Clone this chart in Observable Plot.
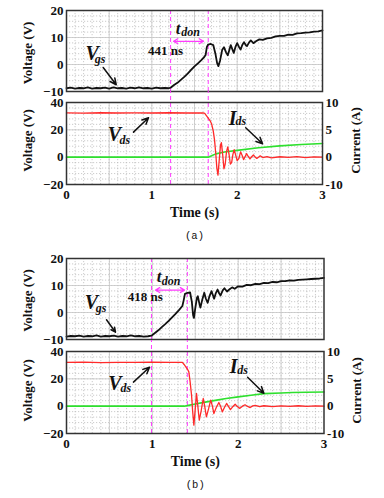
<!DOCTYPE html>
<html><head><meta charset="utf-8">
<script src="https://cdn.jsdelivr.net/npm/d3@7"></script>
<script src="https://cdn.jsdelivr.net/npm/@observablehq/plot@0.6"></script>
<style>
body{margin:0;background:#fff;}
#root{position:relative;width:384px;height:498px;overflow:hidden;background:#fff;}
.p{position:absolute;left:0;}
</style></head><body><div id="root"></div>
<script>
// ---------- data ----------
const timeTicks = [0, 1, 2, 3];
const xMajor = [0.5, 1, 1.5, 2, 2.5];
const vTopTicks = [-10, 0, 10, 20];
const vBotTicks = [-20, 0, 20, 40];
const currentTickPos = [40, 20, 0, -20];
const currentTickLabels = ["10", "5", "0", "-10"];
const AMP_TO_V = 4;

const dashesA = [1.22, 1.661];
const dashesB = [0.99, 1.408];
const tdonLabelA = "441 ns";
const tdonLabelB = "418 ns";

const vgsA = [[0,-8.8],[0.05,-8.6],[0.1,-8.9],[0.15,-8.7],[0.2,-8.8],[0.25,-8.5],[0.3,-8.9],[0.35,-8.7],[0.4,-8.8],[0.45,-8.6],[0.5,-8.9],[0.55,-8.5],[0.6,-8.8],[0.65,-8.7],[0.7,-8.9],[0.75,-8.6],[0.8,-8.8],[0.85,-8.5],[0.9,-8.8],[0.95,-8.7],[1.0,-8.9],[1.05,-8.6],[1.1,-8.8],[1.15,-8.7],[1.2,-8.8],[1.22,-8.6],[1.26,-7.6],[1.30,-6.8],[1.34,-5.7],[1.38,-4.6],[1.42,-3.4],[1.46,-2.0],[1.50,-0.7],[1.54,0.4],[1.58,1.6],[1.61,2.6],[1.63,3.5],[1.645,6.5],[1.66,7.4],[1.69,7.6],[1.72,7.2],[1.745,4.0],[1.765,0.5],[1.78,-0.6],[1.80,1.5],[1.825,5.5],[1.845,6.4],[1.87,4.5],[1.89,3.4],[1.905,5.0],[1.925,7.2],[1.945,5.5],[1.96,4.3],[1.98,6.5],[2.0,7.9],[2.02,6.6],[2.04,5.5],[2.06,7.2],[2.08,8.3],[2.10,7.2],[2.115,6.8],[2.14,8.2],[2.16,8.9],[2.19,7.9],[2.22,8.6],[2.26,9.3],[2.30,9.1],[2.35,9.7],[2.40,9.9],[2.45,10.4],[2.50,10.6],[2.55,10.6],[2.60,11.1],[2.65,11.0],[2.70,11.5],[2.75,11.6],[2.80,11.8],[2.85,11.9],[2.90,12.2],[2.95,12.3],[3.0,12.6]];

const vdsA = [[0,32.4],[0.2,32.2],[0.4,32.5],[0.6,32.3],[0.8,32.4],[1.0,32.3],[1.2,32.5],[1.4,32.3],[1.6,32.4],[1.62,32.0],[1.65,29.5],[1.68,27.0],[1.70,24.5],[1.72,19],[1.735,12.5],[1.75,2],[1.762,-8],[1.775,-13.2],[1.79,-2],[1.805,9],[1.815,10.6],[1.83,2],[1.845,-8.5],[1.86,-5],[1.875,4],[1.89,7.5],[1.905,2],[1.92,-5],[1.935,-4],[1.95,2],[1.965,5.5],[1.98,2],[2.0,-2.5],[2.02,-1],[2.04,3.9],[2.06,1],[2.075,-1.8],[2.09,0],[2.11,2.6],[2.13,0.5],[2.15,-1.3],[2.17,0.3],[2.19,1.6],[2.21,0.2],[2.23,-0.9],[2.25,0],[2.27,1.0],[2.30,-0.3],[2.35,0.4],[2.4,-0.5],[2.5,0.3],[2.6,-0.2],[2.7,0.4],[2.8,-0.3],[2.9,0.2],[3.0,0.1]];

const idsA = [[0,0],[1.0,0],[1.66,0],[1.70,0.25],[1.75,0.6],[1.85,0.95],[2.0,1.25],[2.25,1.72],[2.5,2.07],[2.75,2.33],[3.0,2.5]];

const vgsB = [[0,-8.9],[0.05,-8.7],[0.1,-8.8],[0.15,-8.6],[0.2,-8.9],[0.25,-8.7],[0.3,-8.8],[0.35,-8.5],[0.4,-8.9],[0.45,-8.7],[0.5,-8.8],[0.55,-8.6],[0.6,-8.9],[0.65,-8.7],[0.7,-8.8],[0.75,-8.5],[0.8,-8.8],[0.85,-8.7],[0.9,-8.9],[0.95,-8.8],[0.99,-8.6],[1.03,-7.6],[1.07,-6.6],[1.11,-5.4],[1.15,-4.3],[1.19,-3.1],[1.23,-1.8],[1.27,-0.5],[1.31,0.9],[1.35,2.4],[1.365,4.5],[1.38,6.9],[1.41,7.3],[1.44,7.4],[1.46,4.0],[1.475,-1.0],[1.485,-2.0],[1.50,1.5],[1.52,5.5],[1.53,6.0],[1.55,3.0],[1.56,1.8],[1.58,4.5],[1.605,7.3],[1.625,5.0],[1.645,3.6],[1.665,6.0],[1.69,7.9],[1.705,6.5],[1.72,5.1],[1.74,7.2],[1.76,8.5],[1.78,7.0],[1.795,6.3],[1.82,8.2],[1.84,9.0],[1.87,7.8],[1.90,8.6],[1.93,9.3],[1.96,8.8],[2.0,9.7],[2.05,9.6],[2.1,10.2],[2.15,10.1],[2.2,10.6],[2.25,10.5],[2.3,11.0],[2.35,10.9],[2.4,11.3],[2.45,11.2],[2.5,11.6],[2.55,11.6],[2.6,11.9],[2.65,11.8],[2.7,12.1],[2.75,12.2],[2.8,12.3],[2.85,12.4],[2.9,12.5],[2.95,12.6],[3.0,12.8]];

const vdsB = [[0,32.0],[0.2,32.2],[0.4,31.9],[0.6,32.1],[0.8,32.0],[1.0,32.2],[1.2,32.0],[1.3,32.1],[1.35,32.0],[1.37,30.5],[1.39,28.8],[1.41,27.0],[1.425,25.1],[1.44,18],[1.457,8],[1.47,-4],[1.484,-13.9],[1.50,-2],[1.515,9.3],[1.53,0],[1.547,-10.3],[1.57,-3],[1.593,5.6],[1.61,0],[1.63,-7.8],[1.655,-2],[1.68,4.4],[1.70,0],[1.717,-5.4],[1.745,-1],[1.775,2.7],[1.795,0],[1.815,-4.2],[1.84,-1],[1.865,2.0],[1.89,-0.5],[1.91,-2.5],[1.94,-0.2],[1.965,1.4],[1.99,-0.3],[2.02,-1.6],[2.05,0],[2.08,1.0],[2.11,-0.2],[2.14,-1.0],[2.17,0.2],[2.2,0.6],[2.25,-0.4],[2.3,0.3],[2.4,-0.3],[2.5,0.2],[2.6,-0.2],[2.7,0.3],[2.8,-0.2],[2.9,0.2],[3.0,0]];

const idsB = [[0,0],[1.0,0],[1.37,0],[1.42,0.15],[1.47,0.3],[1.6,0.7],[1.75,1.1],[1.86,1.4],[2.0,1.7],[2.15,2.0],[2.3,2.3],[2.5,2.42],[2.63,2.5],[2.8,2.55],[3.0,2.6]];

// ---------- drawing ----------
const FONT = '"Liberation Serif","Times New Roman",serif';
const MONO = '"Liberation Mono","DejaVu Sans Mono",monospace';
const MAG = "#ff3cff";
const STYLE = {fontFamily: FONT, fontSize: "13px", fontWeight: "bold", background: "transparent", overflow: "visible", color: "#111"};

function grid(yMajor, yMinor) {
  return [
    Plot.ruleX(d3.range(0.1, 2.95, 0.1), {stroke: "#b4b4b4", strokeWidth: 0.7, strokeDasharray: "1.2,1.8"}),
    Plot.ruleY(yMinor, {stroke: "#b4b4b4", strokeWidth: 0.7, strokeDasharray: "1.2,1.8"}),
    Plot.ruleX(xMajor, {stroke: "#c6c6c6", strokeWidth: 0.8}),
    Plot.ruleY(yMajor, {stroke: "#c6c6c6", strokeWidth: 0.8})
  ];
}

function subLabel(main, sub, a) {
  return [
    Plot.text([main], {x: a.x, y: a.y, text: d => d, fontSize: 20, fontStyle: "italic", fontWeight: "bold", lineAnchor: "bottom", textAnchor: "middle", fill: "#111"}),
    Plot.text([sub], {x: a.sx, y: a.sy, text: d => d, fontSize: 12, fontStyle: "italic", fontWeight: "bold", lineAnchor: "bottom", textAnchor: "start", fill: "#111"}),
    Plot.arrow([0], {x1: a.x1, y1: a.y1, x2: a.x2, y2: a.y2, stroke: "#111", strokeWidth: 1.5, headLength: 7, headAngle: 50})
  ];
}

function yLabel(txt, anchor, dx, dy) {
  return Plot.text([txt], {frameAnchor: anchor, dx, dy, rotate: -90, text: d => d, textAnchor: "middle", lineAnchor: "middle", fontSize: 13, fontWeight: "bold", fill: "#111"});
}

function topPanel(c) {
  return Plot.plot({
    width: 384, height: 101, marginLeft: 66, marginRight: c.mr, marginTop: 10, marginBottom: 10,
    style: STYLE,
    x: {domain: [0, 3], axis: null},
    y: {domain: [-10, 20], axis: null},
    marks: [
      ...grid(vTopTicks, d3.range(-10, 20.01, 2)),
      Plot.ruleX(c.dashes, {stroke: MAG, strokeWidth: 1, strokeDasharray: "4,3"}),
      Plot.line(c.vgs, {x: d => d[0], y: d => d[1], stroke: "#111", strokeWidth: 1.8}),
      Plot.frame({stroke: "#333", strokeWidth: 1.5}),
      Plot.axisY({ticks: vTopTicks, tickSize: 0, tickPadding: 3, label: null, fontSize: 13, fontWeight: "bold"}),
      yLabel("Voltage (V)", "left", -39, c.labDy),
      ...subLabel("V", "gs", c.vgsLab),
      Plot.text([c.tdonText], {x: c.ns.x, y: c.ns.y, text: d => d, fontSize: 13, fontWeight: "bold", lineAnchor: "bottom", fill: "#111"}),
      Plot.text(["t"], {x: c.td.x, y: c.td.y, text: d => d, fontSize: 17, fontStyle: "italic", fontWeight: "bold", lineAnchor: "bottom", fill: "#111"}),
      Plot.text(["don"], {x: c.td.sx, y: c.td.sy, text: d => d, fontSize: 12, fontStyle: "italic", fontWeight: "bold", lineAnchor: "bottom", textAnchor: "start", fill: "#111"}),
      Plot.arrow([0], {x1: c.ar.mid, y1: c.ar.y, x2: c.ar.x1, y2: c.ar.y, stroke: MAG, strokeWidth: 1.3, headLength: 6, headAngle: 60}),
      Plot.arrow([0], {x1: c.ar.mid, y1: c.ar.y, x2: c.ar.x2, y2: c.ar.y, stroke: MAG, strokeWidth: 1.3, headLength: 6, headAngle: 60})
    ]
  });
}

function botPanel(c) {
  return Plot.plot({
    width: 384, height: 151, marginLeft: 66, marginRight: c.mr, marginTop: 11, marginBottom: 58,
    style: STYLE,
    x: {domain: [0, 3], axis: null},
    y: {domain: [-20, 40], axis: null},
    marks: [
      ...grid(vBotTicks, d3.range(-20, 40.01, 4)),
      Plot.ruleX(c.dashes, {y1: -20, y2: 48, stroke: MAG, strokeWidth: 1, strokeDasharray: "4,3"}),
      Plot.line(c.ids, {x: d => d[0], y: d => d[1] * AMP_TO_V, stroke: "#2ee02e", strokeWidth: 1.6}),
      Plot.line(c.vds, {x: d => d[0], y: d => d[1], stroke: "#ff2a2a", strokeWidth: 1.3}),
      Plot.frame({stroke: "#333", strokeWidth: 1.5}),
      Plot.axisY({anchor: "left", ticks: vBotTicks, tickSize: 0, tickPadding: 3, label: null, fontSize: 13, fontWeight: "bold"}),
      Plot.axisY({anchor: "right", ticks: currentTickPos, tickFormat: d => currentTickLabels[currentTickPos.indexOf(d)], tickSize: 0, tickPadding: 3, label: null, fontSize: 13, fontWeight: "bold"}),
      Plot.axisX({ticks: timeTicks, tickFormat: d => String(d), tickSize: 0, tickPadding: 5, label: null, fontSize: 13, fontWeight: "bold"}),
      yLabel("Voltage (V)", "left", -39, c.labDy),
      yLabel("Current (A)", "right", 33, c.labDy),
      Plot.text(["Time (s)"], {frameAnchor: "bottom", dy: 28, text: d => d, lineAnchor: "middle", textAnchor: "middle", fontSize: 14, fontWeight: "bold", fill: "#111"}),
      Plot.text([c.caption], {frameAnchor: "bottom", dy: 51.5, text: d => d, lineAnchor: "middle", textAnchor: "middle", fontFamily: MONO, fontWeight: "normal", fontSize: 10.5, fill: "#111"}),
      ...subLabel("V", "ds", c.vdsLab),
      ...subLabel("I", "ds", c.idsLab)
    ]
  });
}

const root = document.getElementById("root");
function place(el, top) { const d = document.createElement("div"); d.className = "p"; d.style.top = top + "px"; d.appendChild(el); root.appendChild(d); }

place(topPanel({
  mr: 62, dashes: dashesA, vgs: vgsA, labDy: 2, tdonText: tdonLabelA,
  vgsLab: {x: 0.30, y: 1.6, sx: 0.33, sy: 0.74, x1: 0.43, y1: -1.1, x2: 0.583, y2: -7.5},
  ns: {x: 1.16, y: 3.5},
  td: {x: 1.307, y: 11.4, sx: 1.345, sy: 10.6},
  ar: {mid: 1.43, x1: 1.254, x2: 1.606, y: 8.6}
}), 0);

place(botPanel({
  mr: 62, dashes: dashesA, vds: vdsA, ids: idsA, labDy: -3, caption: "(a)",
  vdsLab: {x: 0.563, y: 11.5, sx: 0.62, sy: 10.0, x1: 0.785, y1: 18.3, x2: 0.961, y2: 28.8},
  idsLab: {x: 1.946, y: 23.8, sx: 1.98, sy: 23.2, x1: 2.10, y1: 21.5, x2: 2.298, y2: 9.8}
}), 91);

place(topPanel({
  mr: 60.5, dashes: dashesB, vgs: vgsB, labDy: 1.5, tdonText: tdonLabelB,
  vgsLab: {x: 0.29, y: 1.2, sx: 0.34, sy: 0.1, x1: 0.466, y1: -2.7, x2: 0.571, y2: -7.3},
  ns: {x: 0.917, y: 4.4},
  td: {x: 1.08, y: 11.3, sx: 1.11, sy: 10.1},
  ar: {mid: 1.206, x1: 1.037, x2: 1.375, y: 8.3}
}), 248);

place(botPanel({
  mr: 60.5, dashes: dashesB, vds: vdsB, ids: idsB, labDy: -2, caption: "(b)",
  vdsLab: {x: 0.563, y: 11.6, sx: 0.63, sy: 10.2, x1: 0.78, y1: 17.6, x2: 0.967, y2: 28.5},
  idsLab: {x: 1.946, y: 24.0, sx: 1.99, sy: 23.2, x1: 2.11, y1: 21.2, x2: 2.30, y2: 9.5}
}), 340);
</script></body></html>
